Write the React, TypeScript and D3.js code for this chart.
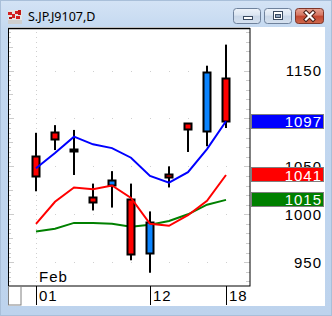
import React from "react";
import * as d3 from "d3";

const title = "S.JP.J9107,D";
const dates = ["02-01", "02-04", "02-05", "02-06", "02-07", "02-08", "02-12", "02-13", "02-14", "02-15", "02-18"];
const openV = [1061, 1086, 1068, 1018, 1030, 1016, 959, 1042, 1095, 1086, 1142];
const highV = [1085, 1093, 1088, 1032, 1045, 1032, 1003, 1050, 1095, 1155, 1177];
const lowV = [1024, 1067, 1041, 1004, 1007, 952, 939, 1028, 1065, 1071, 1090];
const closeV = [1039, 1077, 1065, 1012, 1036, 958, 992, 1038, 1088, 1148, 1096];

const maFast = [1048, 1064, 1081, 1073, 1069, 1059, 1040, 1033, 1044, 1068, 1097];
const maMid = [990, 1013, 1028, 1026, 1030, 1017, 990, 988, 999, 1014, 1041];
const maSlow = [982, 985, 991, 991, 990, 987, 989, 993, 1000, 1010, 1015];

const gridValues = [950, 1000, 1050, 1100, 1150];
const yTickLabels = [950, 1000, 1050, 1150];
const xTickLabels = [
  { date: "02-01", label: "01" },
  { date: "02-12", label: "12" },
  { date: "02-18", label: "18" },
];
const monthLabel = "Feb";

const W = 332;
const H = 316;
const plotL = 8;
const plotR = 250;
const plotT = 29;
const plotB = 286;

const AXIS_FONT = "'Liberation Sans', Arial, sans-serif";

export default function App() {
  const x = d3.scalePoint<string>().domain(dates).range([36, 226]);
  const y = d3.scaleLinear().domain([950, 1150]).range([262.2, 70.5]);
  const vTop = y.invert(plotT);
  const vBot = y.invert(plotB);

  const line = (vals: number[]) =>
    d3
      .line<number>()
      .x((_, i) => x(dates[i]) as number)
      .y((v) => y(v))(vals) as string;

  const leftTicks: number[] = [];
  for (let v = Math.ceil(vBot / 5) * 5; v <= vTop; v += 5) leftTicks.push(v);
  const rightTicks: number[] = [];
  for (let v = Math.ceil(vBot / 10) * 10; v <= vTop; v += 10) rightTicks.push(v);

  const febX = x("02-01") as number;

  const candles = dates.map((d, i) => {
    const cx = x(d) as number;
    const up = closeV[i] >= openV[i];
    const top = y(Math.max(openV[i], closeV[i]));
    const bot = y(Math.min(openV[i], closeV[i]));
    return { cx, up, top, bot, hi: y(highV[i]), lo: y(lowV[i]), key: d };
  });

  const valueBoxes = [
    { v: maSlow[maSlow.length - 1], fill: "#008000" },
    { v: maMid[maMid.length - 1], fill: "#ff0000" },
    { v: maFast[maFast.length - 1], fill: "#0000ff" },
  ];

  return (
    <svg
      width={W}
      height={H}
      viewBox={`0 0 ${W} ${H}`}
      style={{ position: "absolute", left: 0, top: 0, display: "block" }}
    >
      <defs>
        <linearGradient id="frame" x1="0" y1="0" x2="0" y2="1">
          <stop offset="0" stopColor="#d4e3f5" />
          <stop offset="0.1" stopColor="#c3d8f0" />
          <stop offset="1" stopColor="#bdd3ed" />
        </linearGradient>
        <linearGradient id="btn" x1="0" y1="0" x2="0" y2="1">
          <stop offset="0" stopColor="#eef3fa" />
          <stop offset="0.45" stopColor="#dbe5f1" />
          <stop offset="0.5" stopColor="#c9d7e8" />
          <stop offset="1" stopColor="#d6e2f0" />
        </linearGradient>
        <linearGradient id="btnClose" x1="0" y1="0" x2="0" y2="1">
          <stop offset="0" stopColor="#e8a493" />
          <stop offset="0.45" stopColor="#d47562" />
          <stop offset="0.5" stopColor="#c2452f" />
          <stop offset="1" stopColor="#cf6a4e" />
        </linearGradient>
      </defs>

      {/* window frame */}
      <rect x={0} y={0} width={W} height={H} fill="url(#frame)" />
      <rect x={0.5} y={0.5} width={W - 1} height={H - 1} fill="none" stroke="#a9bfd9" />

      {/* title icon */}
      <rect x={8} y={10} width={14} height={14} fill="#e4e4e4" />
      <rect x={8} y={12} width={4} height={3} fill="#d42020" />
      <rect x={12} y={14} width={3} height={4} fill="#d42020" />
      <rect x={15} y={11} width={3} height={3} fill="#d42020" />
      <rect x={18} y={10} width={3} height={5} fill="#c01818" />
      <rect x={16} y={16} width={4} height={3} fill="#d42020" />
      <rect x={9} y={17} width={3} height={2} fill="#b01010" />
      <rect x={8} y={20} width={14} height={4} fill="#cfcfcf" />

      <text
        x={28}
        y={20.5}
        fontFamily="'Noto Sans', 'DejaVu Sans', sans-serif"
        fontSize={12.5}
        fill="#000"
      >
        {title}
      </text>

      {/* caption buttons */}
      <rect x={233.5} y={8.5} width={27} height={15} rx={3} fill="url(#btn)" stroke="#6f829c" />
      <rect x={243.5} y={16.5} width={9} height={3} fill="#fff" stroke="#3a4a60" />
      <rect x={264.5} y={8.5} width={27} height={15} rx={3} fill="url(#btn)" stroke="#6f829c" />
      <rect x={273.5} y={11.5} width={9} height={8} fill="#fff" stroke="#3a4a60" />
      <rect x={275.5} y={14.5} width={5} height={3} fill="#8fa3bd" stroke="#3a4a60" />
      <rect x={295.5} y={8.5} width={28} height={15} rx={3} fill="url(#btnClose)" stroke="#7d3529" />
      <g stroke="#4a2018" strokeWidth={4.2} strokeLinecap="square">
        <line x1={306} y1={12.5} x2={313} y2={19.5} />
        <line x1={313} y1={12.5} x2={306} y2={19.5} />
      </g>
      <g stroke="#fff" strokeWidth={2.2} strokeLinecap="square">
        <line x1={306} y1={12.5} x2={313} y2={19.5} />
        <line x1={313} y1={12.5} x2={306} y2={19.5} />
      </g>

      {/* client area */}
      <rect x={8} y={27} width={317} height={279} fill="#ffffff" />

      {/* dotted grid */}
      <g fill="#cfcfcf">
        {gridValues.map((v) =>
          dates.map((d) => (
            <rect key={`g${v}${d}`} x={x(d) as number} y={Math.round(y(v))} width={1} height={1} />
          ))
        )}
        {leftTicks.map((v) => (
          <rect key={`vf${v}`} x={febX} y={Math.round(y(v))} width={1} height={1} />
        ))}
      </g>

      {/* edge ticks */}
      <g stroke="#cccccc" strokeWidth={1}>
        {leftTicks.map((v) => {
          const len = v % 50 === 0 ? 5 : v % 25 === 0 ? 4 : 2;
          const yy = Math.round(y(v)) + 0.5;
          return <line key={`lt${v}`} x1={9} x2={9 + len} y1={yy} y2={yy} />;
        })}
        {rightTicks.map((v) => {
          const len = v % 50 === 0 ? 6 : 4;
          const yy = Math.round(y(v)) + 0.5;
          return <line key={`rt${v}`} x1={plotR - len} x2={plotR} y1={yy} y2={yy} />;
        })}
      </g>

      {/* slow MA (behind candles) */}
      <path d={line(maSlow)} fill="none" stroke="#008000" strokeWidth={2} />

      {/* candles */}
      {candles.map((c) => (
        <g key={c.key}>
          <rect x={c.cx - 1} y={c.hi} width={2} height={c.lo - c.hi} fill="#000" />
          <rect
            x={c.cx - 3.5}
            y={Math.round(c.top) + 0.5}
            width={7}
            height={Math.max(2, Math.round(c.bot) - Math.round(c.top) - 1)}
            fill={c.up ? "#0a84ff" : "#ff0000"}
            stroke="#000"
            strokeWidth={2}
          />
        </g>
      ))}

      {/* other MAs */}
      <path d={line(maMid)} fill="none" stroke="#ff0000" strokeWidth={2} />
      <path d={line(maFast)} fill="none" stroke="#0000ff" strokeWidth={2} />

      {/* plot border */}
      <rect
        x={plotL + 0.5}
        y={plotT - 0.5}
        width={plotR - plotL - 0.5}
        height={plotB - plotT + 0.5}
        fill="none"
        stroke="#000"
        strokeWidth={1}
      />
      <line x1={plotL} x2={plotR} y1={plotT - 0.5} y2={plotT - 0.5} stroke="#000" strokeWidth={1.5} />

      {/* month label */}
      <text x={39} y={282.3} fontFamily={AXIS_FONT} fontSize={15} letterSpacing={1} fill="#000">
        {monthLabel}
      </text>

      {/* x axis */}
      <rect x={8.5} y={286.5} width={12.5} height={18.5} fill="none" stroke="#808080" />
      {xTickLabels.map((t) => {
        const xx = Math.round(x(t.date) as number) + 0.5;
        return (
          <g key={t.label}>
            <line x1={xx} x2={xx} y1={286} y2={305} stroke="#000" />
            <text x={xx + 2.5} y={300.5} fontFamily={AXIS_FONT} fontSize={15} letterSpacing={1} fill="#000">
              {t.label}
            </text>
          </g>
        );
      })}

      {/* y axis labels */}
      {yTickLabels.map((v) => (
        <text
          key={`yl${v}`}
          x={322}
          y={y(v) + (v === 1000 ? 5.9 : 5.4)}
          textAnchor="end"
          fontFamily={AXIS_FONT}
          fontSize={15}
          letterSpacing={1}
          fill="#000"
        >
          {v}
        </text>
      ))}

      {/* last value boxes */}
      {valueBoxes.map((b) => {
        const cy = y(b.v);
        const top = Math.round(cy - 7.5) + 0.5;
        return (
          <g key={`vb${b.v}`}>
            <rect x={251.5} y={top} width={72} height={14} fill={b.fill} stroke="#7f7f7f" />
            <text
              x={322}
              y={cy + 5.6}
              textAnchor="end"
              fontFamily={AXIS_FONT}
              fontSize={15}
              letterSpacing={1}
              fill="#ffffff"
            >
              {b.v}
            </text>
          </g>
        );
      })}
    </svg>
  );
}
